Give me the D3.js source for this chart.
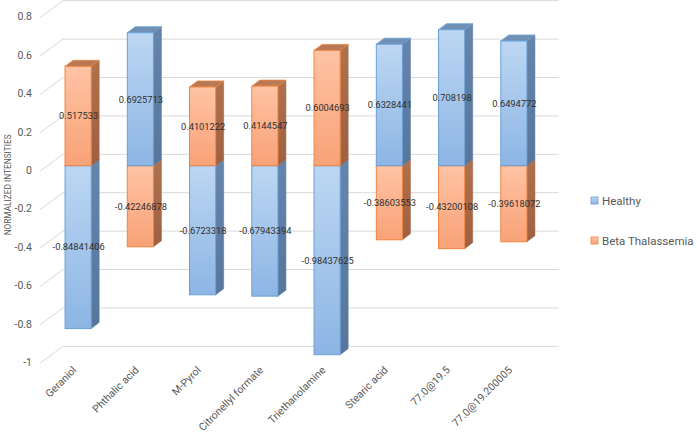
<!DOCTYPE html>
<html>
<head>
<meta charset="utf-8">
<script src="https://cdn.jsdelivr.net/npm/d3@7/dist/d3.min.js"></script>
<style>
  html, body { margin: 0; padding: 0; background: #ffffff; }
  svg { display: block; font-family: Roboto, "Liberation Sans", sans-serif; }
</style>
</head>
<body>
<svg id="chart" width="697" height="437"></svg>
<script>
const categories = ["Geraniol", "Phthalic acid", "M-Pyrol", "Citronellyl formate", "Triethanolamine", "Stearic acid", "77.0@19.5", "77.0@19.200005"];
const healthy = [-0.84841406, 0.6925713, -0.6723318, -0.67943394, -0.98437625, 0.6328441, 0.708198, 0.6494772];
const betaThal = [0.517533, -0.42246878, 0.4101222, 0.4144547, 0.6004693, -0.38603553, -0.43200108, -0.39618072];
const healthyLabels = ["-0.84841406", "0.6925713", "-0.6723318", "-0.67943394", "-0.98437625", "0.6328441", "0.708198", "0.6494772"];
const betaLabels = ["0.517533", "-0.42246878", "0.4101222", "0.4144547", "0.6004693", "-0.38603553", "-0.43200108", "-0.39618072"];
const yTicks = [0.8, 0.6, 0.4, 0.2, 0, -0.2, -0.4, -0.6, -0.8, -1];
const yTickLabels = ["0.8", "0.6", "0.4", "0.2", "0", "-0.2", "-0.4", "-0.6", "-0.8", "-1"];
const seriesNames = ["Healthy", "Beta Thalassemia"];
const yTitle = "NORMALIZED INTENSITIES";

const svg = d3.select("#chart");
const defs = svg.append("defs");

const DX = 8, DY = 6;          // 3D depth offset of bars
const WALL_DX = 23, WALL_DY = 11.4; // offset of back wall vs. front plane

const x = d3.scaleBand().domain(categories).range([47, 545]).paddingInner(0.58).paddingOuter(0.29);
const y = d3.scaleLinear().domain([-1, 0.8]).range([357.7, 12.1]);

const styles = [
  { name: "Healthy", front: ["#bcd7f3", "#8db5e4"], stroke: "#6a9fd6", side: ["#6685ad", "#57769c"], top: "#7090b6" },
  { name: "Beta Thalassemia", front: ["#ffc3a4", "#f8a277"], stroke: "#ef8441", side: ["#b0714f", "#9e6041"], top: "#b97955" }
];
styles.forEach((s, i) => {
  const g1 = defs.append("linearGradient").attr("id", "front" + i).attr("x1", 0).attr("y1", 0).attr("x2", 0).attr("y2", 1);
  g1.append("stop").attr("offset", "0%").attr("stop-color", s.front[0]);
  g1.append("stop").attr("offset", "100%").attr("stop-color", s.front[1]);
  const g2 = defs.append("linearGradient").attr("id", "side" + i).attr("x1", 0).attr("y1", 0).attr("x2", 0).attr("y2", 1);
  g2.append("stop").attr("offset", "0%").attr("stop-color", s.side[0]);
  g2.append("stop").attr("offset", "100%").attr("stop-color", s.side[1]);
});

// Back wall gridlines + left side wall diagonals
const wallLeft = x.range()[0] + 16;
const wallRight = x.range()[1] + 14;
const grid = svg.append("g").attr("stroke", "#d9d9d9").attr("stroke-width", 1).attr("fill", "none");
yTicks.forEach(v => {
  const yb = y(v) - WALL_DY;
  grid.append("path").attr("d", `M${wallLeft - WALL_DX},${yb + 17}L${wallLeft},${yb}L${wallRight},${yb}`);
});

// Y axis labels
const yAxis = d3.axisLeft(y).tickValues(yTicks).tickFormat((d, i) => yTickLabels[i]).tickSize(0).tickPadding(0);
const yg = svg.append("g").attr("transform", "translate(32,4.5)").call(yAxis);
yg.select(".domain").remove();
yg.selectAll("text").attr("fill", "#595959").style("font-size", "10.5px").style("font-family", "Roboto, sans-serif");

// Y title
svg.append("text").attr("transform", `translate(11,${y(-0.1)}) rotate(-90)`)
  .attr("text-anchor", "middle").attr("fill", "#595959").style("font-size", "8.3px").text(yTitle);

// Build segments
const segs = [];
categories.forEach((c, i) => {
  segs.push({ cat: c, s: 0, v: healthy[i], label: healthyLabels[i] });
  segs.push({ cat: c, s: 1, v: betaThal[i], label: betaLabels[i] });
});
// draw order: negative first, then positive (left to right)
const order = segs.filter(d => d.v < 0).concat(segs.filter(d => d.v >= 0));

const bw = x.bandwidth();
const barsG = svg.append("g");
order.forEach(d => {
  const st = styles[d.s];
  const x0 = x(d.cat), x1 = x0 + bw;
  const yt = y(Math.max(0, d.v)), yb = y(Math.min(0, d.v));
  const g = barsG.append("g");
  // side
  g.append("path").attr("d", `M${x1},${yt}L${x1 + DX},${yt - DY}L${x1 + DX},${yb - DY}L${x1},${yb}Z`)
    .attr("fill", `url(#side${d.s})`).attr("stroke", st.side[1]).attr("stroke-width", 0.5);
  // top
  g.append("path").attr("d", `M${x0},${yt}L${x0 + DX},${yt - DY}L${x1 + DX},${yt - DY}L${x1},${yt}Z`)
    .attr("fill", st.top).attr("stroke", st.stroke).attr("stroke-width", 0.8);
  // front
  g.append("rect").attr("x", x0).attr("y", yt).attr("width", bw).attr("height", yb - yt)
    .attr("fill", `url(#front${d.s})`).attr("stroke", st.stroke).attr("stroke-width", 1);
});

// Value labels
svg.append("g").selectAll("text").data(segs).join("text")
  .attr("x", d => x(d.cat) + bw / 2 + 0.5)
  .attr("y", d => (y(0) + y(d.v)) / 2 + 3.3)
  .attr("text-anchor", "middle").attr("fill", "#303030").style("font-size", "9.3px")
  .text(d => d.label);

// X axis labels
const xAxis = d3.axisBottom(x).tickSize(0).tickPadding(0);
const xg = svg.append("g").attr("transform", `translate(-1,${y(-1) + 13})`).call(xAxis);
xg.select(".domain").remove();
xg.selectAll("text").attr("fill", "#595959").style("font-size", "10.5px").style("font-family", "Roboto, sans-serif")
  .attr("text-anchor", "end").attr("dy", "0").attr("y", 0).attr("transform", "rotate(-45)");

// Legend
const legend = svg.append("g");
seriesNames.forEach((n, i) => {
  const ly = 197 + i * 40;
  legend.append("rect").attr("x", 591).attr("y", ly).attr("width", 7).attr("height", 7)
    .attr("fill", `url(#front${i})`).attr("stroke", styles[i].stroke).attr("stroke-width", 0.8);
  legend.append("text").attr("x", 602).attr("y", ly + 7.5).attr("fill", "#595959").style("font-size", "11.5px").text(n);
});
</script>
</body>
</html>
